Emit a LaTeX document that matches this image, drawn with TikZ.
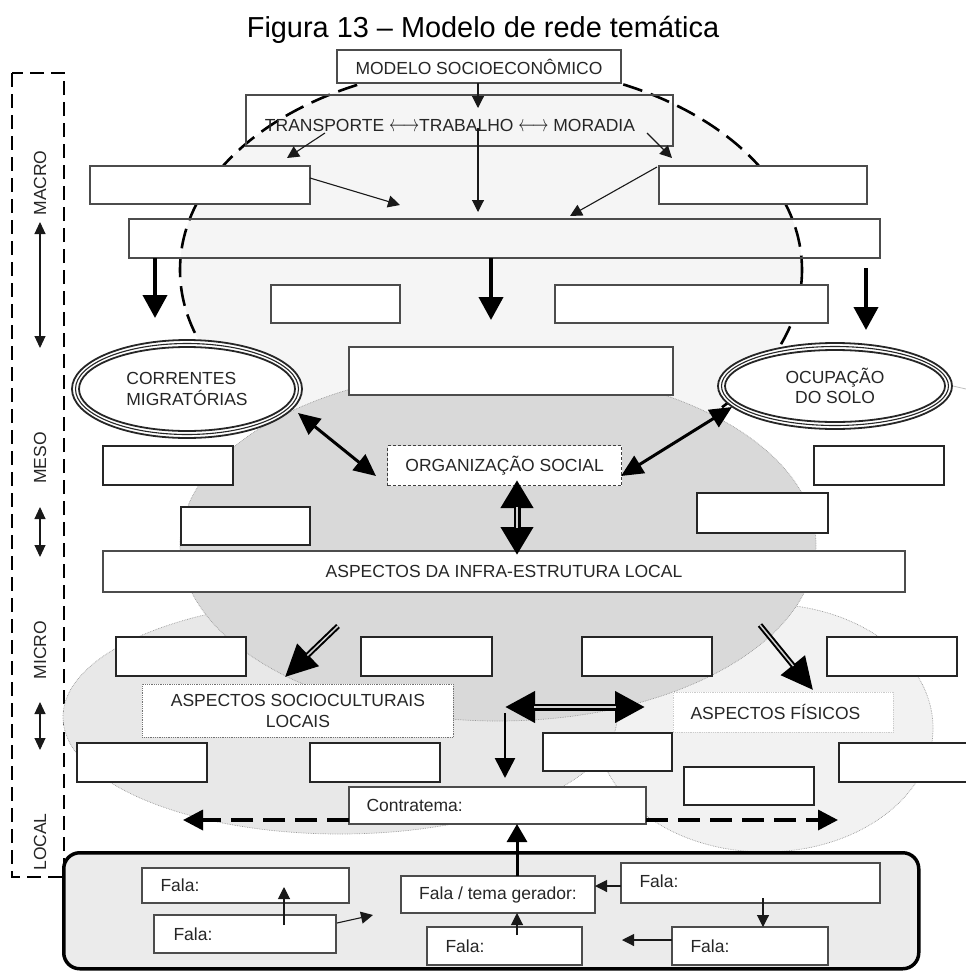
\documentclass[tikz,border=0pt]{standalone}
\usepackage{fontspec}
\setmainfont{Liberation Sans}
\usetikzlibrary{arrows.meta,shapes.geometric}

\tikzset{
  lbl/.style={font=\fontsize{17.5}{20.5}\selectfont, text=black!85},
  sz/.style 2 args={minimum width=#1, minimum height=#2},
  thinbox/.style={draw=black!70, line width=1.3pt, fill=white, inner sep=0pt, outer sep=0pt, anchor=north west},
  openbox/.style={draw=black!70, line width=1.3pt, inner sep=0pt, outer sep=0pt, anchor=north west},
  thickbox/.style={draw=black!85, line width=2.2pt, fill=white, inner sep=0pt, outer sep=0pt, anchor=north west},
  falabox/.style={draw=black!70, line width=1.5pt, fill=white, inner sep=0pt, outer sep=0pt, anchor=north west},
  thinarrow/.style={draw=black!90, line width=1.1pt, -{Triangle[width=12pt,length=12pt]}},
  bigdown/.style={draw=black, line width=4pt, -{Triangle[width=24pt,length=23pt]}},
  dblarrow/.style={draw=black, line width=3pt, {Triangle[width=20pt,length=22pt]}-{Triangle[width=20pt,length=22pt]}},
  scalearrow/.style={draw=black!90, line width=1.1pt, {Triangle[width=11pt,length=12pt]}-{Triangle[width=11pt,length=12pt]}},
  ring/.style={draw=black!85},
  shaftin/.style={draw=black!18, line width=1.8pt}
}
\newcommand{\lrarr}{\scalebox{0.95}[1.35]{$\longleftrightarrow$}}

\begin{document}
\begin{tikzpicture}[x=1pt,y=-1pt]
\useasboundingbox (0,0) rectangle (966,972);

% title
\node[font=\fontsize{28.9}{31}\selectfont, anchor=base] (title) at (483,37) {Figura 13 – Modelo de rede temática};

% left dashed bracket
\draw[line width=2pt, dash pattern=on 14pt off 7pt] (12,73) rectangle (64,877);
\node[lbl, rotate=90] (macro) at (40,183) {MACRO};
\node[lbl, rotate=90] (meso) at (40,458) {MESO};
\node[lbl, rotate=90] (micro) at (40,650) {MICRO};
\node[lbl, rotate=90] (local) at (40,842) {LOCAL};
\coordinate (s1a) at (40,222); \coordinate (s1b) at (40,348);
\coordinate (s2a) at (40,507); \coordinate (s2b) at (40,557);
\coordinate (s3a) at (40,702); \coordinate (s3b) at (40,750);
\draw[scalearrow] (s1a) -- (s1b);
\draw[scalearrow] (s2a) -- (s2b);
\draw[scalearrow] (s3a) -- (s3b);

% background ellipses
\draw[fill=black!4, line width=2.6pt, dash pattern=on 20pt off 9pt] (491,270) ellipse [x radius=311, y radius=205];
\draw[fill=black!5, draw=black!40, line width=0.7pt, densely dotted] (765,728) ellipse [x radius=168, y radius=124];
\draw[fill=black!9, draw=black!40, line width=0.7pt, densely dotted] (340,717) ellipse [x radius=277, y radius=117];
\draw[fill=black!15, draw=black!40, line width=0.7pt, densely dotted] (498,545) ellipse [x radius=318, y radius=176];

% ---------- MACRO level ----------
\node[thinbox, sz={284pt}{33pt}, lbl] (modelo) at (337,50) {MODELO SOCIOECONÔMICO};
\node[openbox, sz={427pt}{51pt}] (trans) at (246,95) {};
\node[lbl] (transtxt) at (450,125) {TRANSPORTE \lrarr TRABALHO \lrarr\ MORADIA};
\node[thinbox, sz={220pt}{38pt}] (boxL) at (90,166) {};
\node[thinbox, sz={208pt}{38pt}] (boxR) at (659,166) {};
\node[openbox, sz={751pt}{39pt}] (long) at (129,219) {};
\node[thinbox, sz={129pt}{38pt}] (b2a) at (271,285) {};
\node[thinbox, sz={273pt}{38pt}] (b2b) at (555,285) {};
\node[thinbox, sz={324pt}{48pt}] (b3) at (349,347) {};

\coordinate (mA) at (478,108);
\coordinate (mB) at (478,128); \coordinate (mC) at (478,212);
\coordinate (tL1) at (325,133); \coordinate (tL2) at (287,158);
\coordinate (tR1) at (647,133); \coordinate (tR2) at (672,158);
\coordinate (bL2) at (400,205);
\coordinate (bR2) at (570,216);
\draw[thinarrow] (modelo.south -| mA) -- (mA);
\draw[thinarrow] (mB) -- (mC);
\draw[thinarrow] (tL1) -- (tL2);
\draw[thinarrow] (tR1) -- (tR2);
\draw[thinarrow] ([yshift=7pt]boxL.east) -- (bL2);
\draw[thinarrow] ([xshift=-2pt,yshift=-1pt]boxR.north west) -- (bR2);

\coordinate (d1a) at (155,258); \coordinate (d1b) at (155,318);
\coordinate (d2a) at (491,258); \coordinate (d2b) at (491,320);
\coordinate (d3a) at (866,268); \coordinate (d3b) at (866,330);
\draw[bigdown] (d1a) -- (d1b);
\draw[bigdown] (d2a) -- (d2b);
\draw[bigdown] (d3a) -- (d3b);

% ---------- ovals ----------
\node[ellipse, draw=black!85, line width=1.8pt, fill=white, sz={230pt}{98pt}, lbl, align=left] (corr) at (187,389) {CORRENTES\\MIGRATÓRIAS};
\draw[ring, line width=1.1pt] (corr.center) ellipse [x radius=111.5, y radius=45.5];
\draw[ring, line width=1.8pt] (corr.center) ellipse [x radius=108, y radius=42];
\node[ellipse, draw=black!85, line width=1.8pt, fill=white, sz={234pt}{86pt}, lbl, align=center] (ocup) at (835,386) {OCUPAÇÃO\\DO SOLO};
\draw[ring, line width=1.1pt] (ocup.center) ellipse [x radius=113.5, y radius=39.5];
\draw[ring, line width=1.8pt] (ocup.center) ellipse [x radius=110, y radius=36];
\coordinate (edgeR) at (966,389);
\draw[black!25, line width=0.8pt] (ocup.east) -- (edgeR);

% ---------- MESO level ----------
\node[draw=black!75, line width=1.3pt, dash pattern=on 3pt off 2pt, fill=white, inner sep=0pt, anchor=north west, sz={234pt}{40pt}, lbl] (org) at (387,445) {ORGANIZAÇÃO SOCIAL};
\node[thickbox, sz={130pt}{39pt}] (m1) at (103,446) {};
\node[thickbox, sz={129pt}{38pt}] (m2) at (181,507) {};
\node[thickbox, sz={130pt}{39pt}] (m3) at (814,446) {};
\node[thickbox, sz={131pt}{40pt}] (m4) at (697,493) {};
\node[thinbox, sz={802pt}{41pt}, lbl] (infra) at (103,551) {ASPECTOS DA INFRA-ESTRUTURA LOCAL};

\coordinate (c1) at (298,413); \coordinate (c2) at (376,476);
\coordinate (o1) at (732,407); \coordinate (o2) at (621,476);
\draw[dblarrow] (c1) -- (c2);
\draw[dblarrow] (o1) -- (o2);

\coordinate (v1) at (517,480); \coordinate (v2) at (517,555);
\draw[draw=black, line width=7pt, {Triangle[width=31pt,length=28pt]}-{Triangle[width=31pt,length=28pt]}] (v1) -- (v2);
\draw[shaftin, shorten <=27pt, shorten >=27pt] (v1) -- (v2);

% ---------- MICRO level ----------
\node[thickbox, sz={130pt}{39pt}] (l1) at (116,637) {};
\node[thickbox, sz={131pt}{39pt}] (l2) at (361,637) {};
\node[thickbox, sz={130pt}{39pt}] (l3) at (582,637) {};
\node[thickbox, sz={130pt}{39pt}] (l4) at (827,637) {};
\node[draw=black!55, line width=0.8pt, densely dotted, fill=white, inner sep=0pt, anchor=north west, sz={311pt}{53pt}, lbl, align=center] (soc) at (142,684) {ASPECTOS SOCIOCULTURAIS\\LOCAIS};
\node[draw=black!20, line width=0.8pt, densely dotted, fill=white, inner sep=0pt, anchor=north west, sz={220pt}{40pt}] (fis) at (673,692) {};
\node[lbl, anchor=west] (fistxt) at ([xshift=14pt]fis.west) {ASPECTOS FÍSICOS};
\node[thickbox, sz={130pt}{39pt}] (l5) at (77,743) {};
\node[thickbox, sz={130pt}{39pt}] (l6) at (310,743) {};
\node[thickbox, sz={129pt}{38pt}] (l7) at (543,733) {};
\node[thickbox, sz={130pt}{38pt}] (l8) at (684,767) {};
\draw[draw=black!85, line width=2.2pt, fill=white] (966,743) -- (839,743) -- (839,782) -- (966,782);

% diagonal double-shaft arrows
\coordinate (g1) at (338,626); \coordinate (g2) at (285,677);
\coordinate (h1) at (760,625); \coordinate (h2) at (813,690);
\draw[draw=black, line width=5.5pt, -{Triangle[width=30pt,length=32pt]}] (g1) -- (g2);
\draw[shaftin, line width=1.5pt, shorten >=31pt] (g1) -- (g2);
\draw[draw=black, line width=5.5pt, -{Triangle[width=30pt,length=32pt]}] (h1) -- (h2);
\draw[shaftin, line width=1.5pt, shorten >=31pt] (h1) -- (h2);

% horizontal double arrow and down arrow
\coordinate (x1) at (505,707); \coordinate (x2) at (645,707);
\draw[draw=black, line width=7pt, {Triangle[width=30pt,length=30pt]}-{Triangle[width=30pt,length=30pt]}] (x1) -- (x2);
\draw[shaftin, shorten <=29pt, shorten >=29pt] (x1) -- (x2);
\coordinate (y1) at (505,713); \coordinate (y2) at (505,778);
\draw[draw=black, line width=2.6pt, -{Triangle[width=20pt,length=20pt]}] (y1) -- (y2);

% contratema
\node[thinbox, sz={297pt}{37pt}] (contra) at (349,787) {};
\node[lbl, anchor=west] (contratxt) at ([xshift=14pt]contra.west) {Contratema:};
\coordinate (k1) at (183,820); \coordinate (k2) at (838,820);
\draw[draw=black, line width=3.5pt, dash pattern=on 22pt off 10pt, -{Triangle[width=20pt,length=20pt]}] (contra.west |- k1) -- (k1);
\draw[draw=black, line width=3.5pt, dash pattern=on 22pt off 10pt, -{Triangle[width=20pt,length=20pt]}] (contra.east |- k2) -- (k2);

% ---------- LOCAL level ----------
\node[draw=black, line width=3.5pt, rounded corners=16pt, fill=black!8, inner sep=0pt, anchor=north west, sz={855pt}{116pt}] (locbox) at (62,851) {};
\node[falabox, sz={207pt}{35pt}] (f1) at (142,868) {};
\node[lbl, anchor=west] (f1t) at ([xshift=15pt]f1.west) {Fala:};
\node[falabox, sz={182pt}{38pt}] (f2) at (154,915) {};
\node[lbl, anchor=west] (f2t) at ([xshift=16pt]f2.west) {Fala:};
\node[falabox, sz={194pt}{37pt}, lbl] (tema) at (401,876) {Fala / tema gerador:};
\node[falabox, sz={155pt}{38pt}] (f3) at (427,927) {};
\node[lbl, anchor=west] (f3t) at ([xshift=15pt]f3.west) {Fala:};
\node[falabox, sz={259pt}{40pt}] (f4) at (621,863) {};
\node[lbl, anchor=west] (f4t) at ([xshift=15pt,yshift=2pt]f4.west) {Fala:};
\node[falabox, sz={156pt}{38pt}] (f5) at (672,927) {};
\node[lbl, anchor=west] (f5t) at ([xshift=15pt]f5.west) {Fala:};

\coordinate (p1) at (284,925); \coordinate (p2) at (284,887);
\coordinate (q1) at (337,923); \coordinate (q2) at (373,915);
\coordinate (r1) at (517,935);
\coordinate (t1) at (517,876);
\coordinate (u1) at (621,886);
\coordinate (w1) at (763,898);
\coordinate (z1) at (672,940); \coordinate (z2) at (622,940);
\draw[thinarrow] (p1) -- (p2);
\draw[thinarrow] (q1) -- (q2);
\draw[thinarrow] (r1) -- (r1 |- tema.south);
\draw[draw=black, line width=3pt, -{Triangle[width=20pt,length=18pt]}] (t1) -- (t1 |- contra.south);
\draw[thinarrow] (u1) -- (u1 -| tema.east);
\draw[thinarrow] (w1) -- (w1 |- f5.north);
\draw[thinarrow] (z1) -- (z2);
\end{tikzpicture}
\end{document}
